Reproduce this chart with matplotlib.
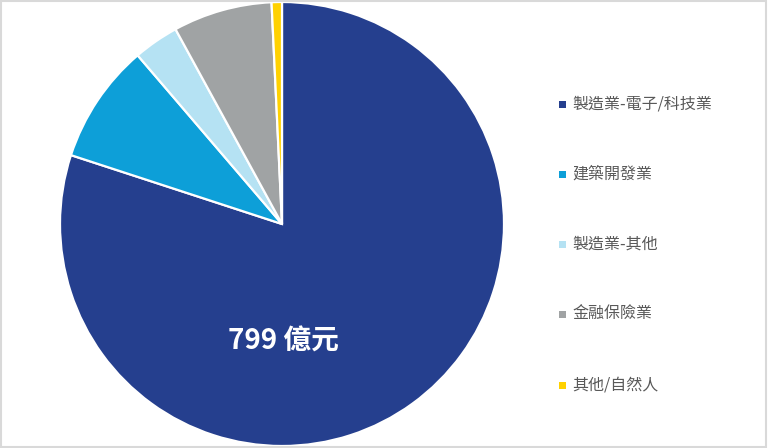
import matplotlib.pyplot as plt
from matplotlib.patches import Rectangle

plt.rcParams['font.family'] = ['Noto Sans CJK TC', 'DejaVu Sans']

# 產業別 (clockwise from 12 o'clock)
categories = ['製造業-電子/科技業', '建築開發業', '製造業-其他', '金融保險業', '其他/自然人']
values = [799, 87, 33, 72, 7.5]   # 億元
colors = ['#253F8E', '#0D9FD8', '#B5E2F3', '#A0A3A4', '#FFD100']
center_label = '799 億元'

W, H = 768, 448
fig = plt.figure(figsize=(W / 100, H / 100), dpi=100)

# pie: centre (282, 224) px, radius 222 px
cx, cy, r = 282, 224, 222
ax = fig.add_axes([(cx - r) / W, (H - cy - r) / H, 2 * r / W, 2 * r / H])
ax.pie(values, colors=colors, startangle=90, counterclock=False, radius=1,
       wedgeprops=dict(edgecolor='white', linewidth=1.6))
ax.set_xlim(-1, 1)
ax.set_ylim(-1, 1)
ax.set_aspect('equal')
ax.axis('off')

fig.text(283 / W, 1 - 342 / H, center_label, color='white', fontsize=20,
         fontweight='bold', ha='center', va='center')

# legend, drawn by hand
y0, step = 104, 70.25
for i, (lab, col) in enumerate(zip(categories, colors)):
    y = y0 + i * step
    fig.patches.append(Rectangle((559 / W, 1 - (y + 3.5) / H), 7 / W, 7 / H,
                                 transform=fig.transFigure, facecolor=col,
                                 edgecolor='none'))
    fig.text(572 / W, 1 - y / H, lab, color='#595959', fontsize=11.5,
             ha='left', va='center')

# thin frame round the picture
fig.patches.append(Rectangle((0.5 / W, 1.5 / H), (W - 3) / W, (H - 2.5) / H,
                             transform=fig.transFigure, facecolor='none',
                             edgecolor='#D9D9D9', linewidth=1.5))

fig.savefig('out.png', dpi=100)
